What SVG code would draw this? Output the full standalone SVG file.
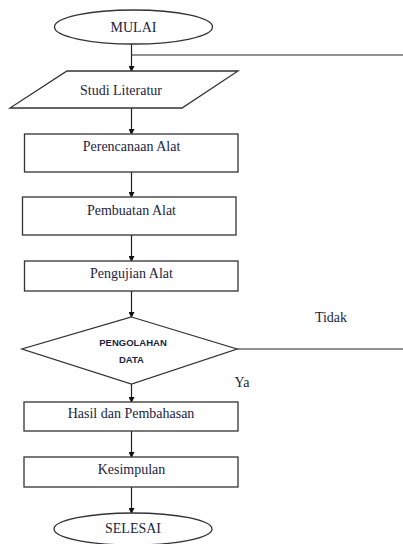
<svg xmlns="http://www.w3.org/2000/svg" width="403" height="544" viewBox="0 0 403 544">
<defs>
<marker id="ah" markerWidth="6" markerHeight="6" refX="5" refY="3" orient="auto" markerUnits="userSpaceOnUse">
<path d="M0,0 L6,3 L0,6 Z" fill="#111"/>
</marker>
<style>
.shape{fill:#fff;stroke:#333;stroke-width:1.3}
.t{font-family:"Liberation Serif","Times New Roman",serif;font-size:14px;fill:#1c2440;text-anchor:middle}
.s{font-family:"Liberation Sans",Arial,sans-serif;font-size:9.5px;font-weight:bold;fill:#1c2440;text-anchor:middle}
.c{stroke:#222;stroke-width:1.2;fill:none}
.ca{stroke:#222;stroke-width:1.2;fill:none;marker-end:url(#ah)}
</style>
</defs>
<rect width="403" height="544" fill="#fff"/>
<g id="connectors">
<line class="ca" x1="131.5" y1="44" x2="131.5" y2="71"/>
<line class="c" x1="131.5" y1="55" x2="403" y2="55"/>
<line class="ca" x1="131.5" y1="108" x2="131.5" y2="134"/>
<line class="ca" x1="131.5" y1="172" x2="131.5" y2="197"/>
<line class="ca" x1="131.5" y1="235" x2="131.5" y2="261"/>
<line class="ca" x1="131.5" y1="291" x2="131.5" y2="317"/>
<line class="c" x1="237" y1="349" x2="403" y2="349"/>
<line class="ca" x1="131.5" y1="384" x2="131.5" y2="402"/>
<line class="ca" x1="131.5" y1="431" x2="131.5" y2="457"/>
<line class="ca" x1="131.5" y1="487" x2="131.5" y2="513"/>
<text class="t" x="331" y="322">Tidak</text>
<text class="t" x="242" y="387">Ya</text>
</g>
<g id="mulai">
<ellipse class="shape" cx="133.5" cy="27" rx="79" ry="17"/>
<text class="t" x="133.5" y="32">MULAI</text>
</g>
<g id="studi">
<polygon class="shape" points="67,71 238,71 182,108 10,108"/>
<text class="t" x="121" y="95">Studi Literatur</text>
</g>
<g id="perencanaan">
<rect class="shape" x="24.5" y="134" width="213.5" height="38"/>
<text class="t" x="131.5" y="151">Perencanaan Alat</text>
</g>
<g id="pembuatan">
<rect class="shape" x="22.5" y="197" width="213.5" height="38"/>
<text class="t" x="131.5" y="215">Pembuatan Alat</text>
</g>
<g id="pengujian">
<rect class="shape" x="24.5" y="261" width="213.5" height="30"/>
<text class="t" x="131.5" y="278">Pengujian Alat</text>
</g>
<g id="pengolahan">
<polygon class="shape" points="131.5,317 237,349 131.5,384 22,349"/>
<text class="s" x="133" y="346">PENGOLAHAN</text>
<text class="s" x="131.5" y="363">DATA</text>
</g>
<g id="hasil">
<rect class="shape" x="24" y="402" width="214" height="29"/>
<text class="t" x="131" y="418">Hasil dan Pembahasan</text>
</g>
<g id="kesimpulan">
<rect class="shape" x="24" y="457" width="214" height="30"/>
<text class="t" x="131.5" y="474">Kesimpulan</text>
</g>
<g id="selesai">
<ellipse class="shape" cx="133" cy="529" rx="79" ry="16"/>
<text class="t" x="133" y="533">SELESAI</text>
</g>
</svg>
